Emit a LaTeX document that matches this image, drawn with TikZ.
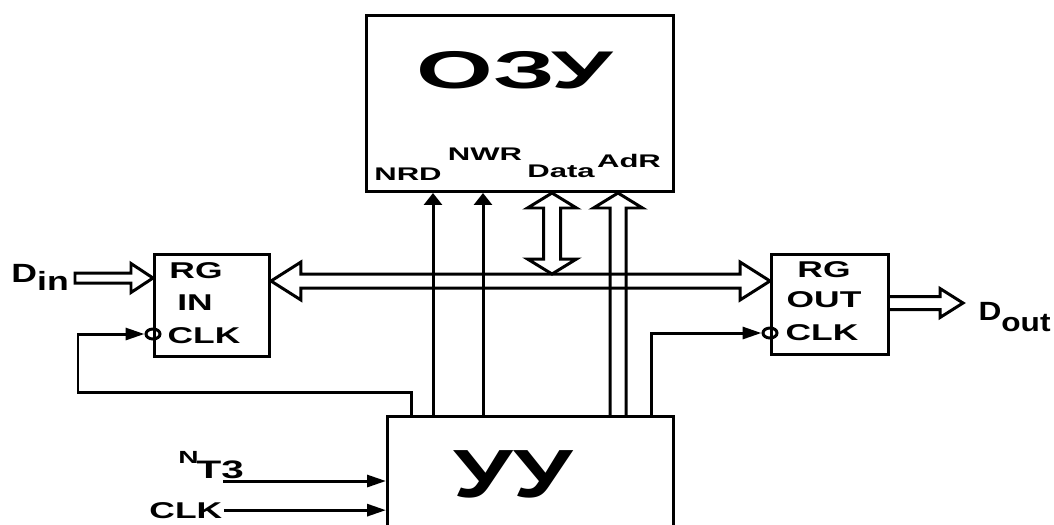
\documentclass[tikz,border=0pt]{standalone}
\usepackage{fontspec}
\usepackage{graphicx}
\setmainfont{Liberation Sans}
\usetikzlibrary{arrows.meta,calc,shapes.geometric}
\newcommand{\wide}[2]{\scalebox{#1}[1]{#2}}

\begin{document}
\begin{tikzpicture}[line width=0.85pt,
    blk/.style={draw,anchor=north west,inner sep=0pt},
    txt/.style={inner sep=0pt,anchor=base},
    lbl/.style={txt,font=\bfseries\fontsize{5.2}{6}\selectfont},
    reg/.style={txt,font=\bfseries\fontsize{6.5}{7}\selectfont},
    sig/.style={-{Triangle[length=1.9mm,width=1.2mm]}},
    sigv/.style={-{Triangle[length=1.2mm,width=1.8mm]}},
    inv/.style={draw,ellipse,inner sep=0pt,minimum width=1.4mm,minimum height=1mm}]
    \useasboundingbox (0,0) rectangle (10.54,5.24);
    % blocks
    \node[blk,minimum width=3.07cm,minimum height=1.76cm] (ozu) at (3.65,5.10) {};
    \node[blk,minimum width=1.15cm,minimum height=1.02cm] (rgin) at (1.53,2.71) {};
    \node[blk,minimum width=1.17cm,minimum height=1.00cm] (rgout) at (7.70,2.71) {};
    \node[blk,minimum width=2.86cm,minimum height=1.30cm] (uu) at (3.86,1.09) {};
    \node[txt,font=\bfseries\fontsize{15.1}{16}\selectfont] (ozuT) at (5.15,4.36) {\wide{1.86}{ОЗУ}};
    \node[txt,font=\bfseries\fontsize{19.4}{20}\selectfont] (uuT) at (5.13,0.27) {\wide{1.4}{УУ}};
    % memory pins
    \node[lbl] (nrd) at (4.08,3.44) {\wide{1.7}{NRD}};
    \node[lbl] (nwr) at (4.85,3.64) {\wide{1.7}{NWR}};
    \node[lbl] (data) at (5.61,3.47) {\wide{1.7}{Data}};
    \node[lbl] (adr) at (6.29,3.57) {\wide{1.7}{AdR}};
    % registers
    \node[reg] (rginA) at (1.96,2.46) {\wide{1.55}{RG}};
    \node[reg] (rginB) at (1.95,2.14) {\wide{1.55}{IN}};
    \node[reg] (rginC) at (2.04,1.81) {\wide{1.55}{CLK}};
    \node[reg] (rgoutA) at (8.24,2.47) {\wide{1.55}{RG}};
    \node[reg] (rgoutB) at (8.24,2.17) {\wide{1.55}{OUT}};
    \node[reg] (rgoutC) at (8.22,1.84) {\wide{1.55}{CLK}};
    \node[inv] (cin) at (rgin.west |- 0,1.90) {};
    \node[inv] (cout) at (rgout.west |- 0,1.91) {};
    % outside signals
    \node[txt,anchor=base west,font=\bfseries\fontsize{7.5}{8}\selectfont] (din) at (0.10,2.42) {\wide{1.35}{D\raisebox{-0.6ex}{in}}};
    \node[txt,anchor=base west,font=\bfseries\fontsize{7.5}{8}\selectfont] (dout) at (9.77,2.04) {\wide{1.2}{D\raisebox{-0.8ex}{out}}};
    \node[txt,anchor=base west,font=\bfseries] (nt3) at (1.77,0.61) {\wide{1.6}{{\fontsize{5}{6}\selectfont N}\kern-0.4pt{\fontsize{7.2}{8}\selectfont\raisebox{-4.3pt}{T3}}}};
    \node[reg,anchor=base west] (clkin) at (1.48,0.06) {\wide{1.55}{CLK}};
    \coordinate (nt3end) at (2.23,0.43);
    % hollow arrows
    \coordinate (dinT) at (rgin.west |- 0,2.46);
    \draw (dinT) -- ++(-0.22,0.145) -- ++(0,-0.095) -- (0.75,2.51) -- (0.75,2.41) -- ($(dinT)+(-0.22,-0.05)$) -- ++(0,-0.095) -- cycle;
    \coordinate (busL) at (rgin.east |- 0,2.43);
    \coordinate (busR) at (rgout.west |- 0,2.43);
    \draw (busL) -- ++(0.30,0.19) -- ++(0,-0.12) -- ($(busR)+(-0.30,0.07)$) -- ++(0,0.12) -- (busR) -- ++(-0.30,-0.19) -- ++(0,0.12) -- ($(busL)+(0.30,-0.07)$) -- ++(0,-0.12) -- cycle;
    \coordinate (dT) at (5.52,0 |- ozu.south);
    \coordinate (dB) at (5.52,2.50);
    \draw (dT) -- ++(0.245,-0.15) -- ++(-0.16,0) -- ($(dB)+(0.085,0.15)$) -- ++(0.16,0) -- (dB) -- ++(-0.245,0.15) -- ++(0.16,0) -- ($(dT)+(-0.085,-0.15)$) -- ++(-0.16,0) -- cycle;
    \coordinate (aT) at (6.18,0 |- ozu.south);
    \coordinate (aB) at (6.18,0 |- uu.north);
    \draw ($(aB)+(-0.08,0)$) -- ($(aT)+(-0.08,-0.15)$) -- ++(-0.165,0) -- (aT) -- ++(0.245,-0.15) -- ++(-0.165,0) -- ($(aB)+(0.08,0)$);
    \coordinate (doB) at (rgout.east |- 0,2.21);
    \coordinate (doT) at (9.63,2.21);
    \draw ($(doB)+(0,0.065)$) -- ($(doT)+(-0.23,0.065)$) -- ++(0,0.08) -- (doT) -- ++(-0.23,-0.145) -- ++(0,0.08) -- ($(doB)+(0,-0.065)$);
    % control lines
    \draw[sigv] (4.33,0 |- uu.north) -- (4.33,0 |- ozu.south);
    \draw[sigv] (4.83,0 |- uu.north) -- (4.83,0 |- ozu.south);
    \draw[sig] (4.11,0 |- uu.north) |- (0.78,1.32) |- (cin.west);
    \draw[sig] (6.51,0 |- uu.north) |- (cout.west);
    \draw[sig] (nt3end) -- (nt3end -| uu.west);
    \draw[sig] (clkin.east) -- (clkin.east -| uu.west);
\end{tikzpicture}
\end{document}
